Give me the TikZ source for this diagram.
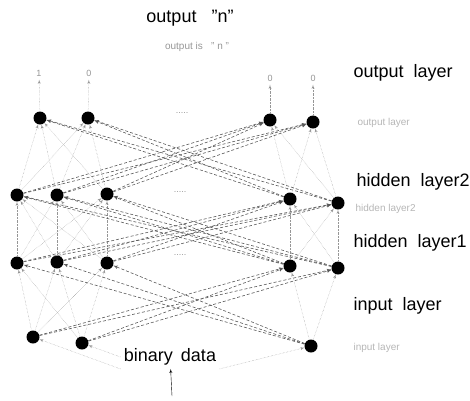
\documentclass[tikz,border=0pt]{standalone}
\usepackage{fontspec}
\setmainfont{Liberation Sans}
\usepackage{xcolor}
\usepackage{tikz}
\usetikzlibrary{shapes,arrows,positioning}
\definecolor{faint}{RGB}{150, 150, 150}
\tikzstyle{neuron} = [circle, fill=black, minimum size=13pt, inner sep=0pt]
\tikzstyle{layername} = [font=\fontsize{18}{20}\selectfont, anchor=west]
\tikzstyle{tiny} = [font=\fontsize{10}{12}\selectfont, text=faint!70, anchor=west]
\tikzstyle{value} = [font=\fontsize{9}{10}\selectfont, text=faint]
\tikzstyle{link} = [draw, faint, densely dotted, -latex']
\tikzstyle{cross} = [draw, black!65, densely dashed, semithick, -latex']
\tikzstyle{outline} = [draw, faint, densely dotted, -latex']

\begin{document}
\begin{tikzpicture}[x=1pt, y=-1pt]
    \useasboundingbox (0,0) rectangle (470,400);
    % title
    \node [font=\fontsize{18}{20}\selectfont] (title) at (190,18) {output \ \ ''n''};
    \node [font=\fontsize{10}{12}\selectfont, text=faint] (result) at (197,47) {output is \ \ '' n ''};

    % output layer
    \node [neuron] (o1) at (40,118) {};
    \node [neuron] (o2) at (88,118) {};
    \node [neuron] (o3) at (270,120) {};
    \node [neuron] (o4) at (313,122) {};
    \node [value] (v1) at (39,73) {1};
    \node [value] (v2) at (89,73) {0};
    \node [value] (v3) at (270,78) {0};
    \node [value] (v4) at (313,78) {0};

    % hidden layer2
    \node [neuron] (h21) at (17,195) {};
    \node [neuron] (h22) at (57,195) {};
    \node [neuron] (h23) at (107,194) {};
    \node [neuron] (h24) at (290,199) {};
    \node [neuron] (h25) at (338,203) {};

    % hidden layer1
    \node [neuron] (h11) at (17,263) {};
    \node [neuron] (h12) at (57,262) {};
    \node [neuron] (h13) at (107,263) {};
    \node [neuron] (h14) at (290,266) {};
    \node [neuron] (h15) at (338,268) {};

    % input layer
    \node [neuron] (i1) at (33,337) {};
    \node [neuron] (i2) at (82,343) {};
    \node [neuron] (i3) at (311,346) {};
    \node [font=\fontsize{18}{20}\selectfont] (data) at (170,357) {binary \,data};
    \coordinate (feed) at (172,396);

    % dots
    \node [value] (d3) at (182,113) {.....};
    \node [value] (d2) at (180,192) {.....};
    \node [value] (d1) at (180,255) {.....};

    % layer names
    \node [layername] (lo) at (350,73) {output \ layer};
    \node [tiny] (so) at (354,123) {output layer};
    \node [layername] (lh2) at (353,182) {hidden \ layer2};
    \node [tiny] (sh2) at (352,209) {hidden layer2};
    \node [layername] (lh1) at (350,243) {hidden \ layer1};
    \node [layername] (li) at (350,306) {input \ layer};
    \node [tiny] (si) at (350,348) {input layer};

    % outputs
    \path [outline] (o1) -- (v1);
    \path [outline] (o2) -- (v2);
    \path [outline] (o3) -- (v3);
    \path [outline] (o4) -- (v4);

    % hidden layer2 -> output layer
    \foreach \a in {h21,h22,h23} \foreach \b in {o1,o2} \path [link] (\a) -- (\b);
    \foreach \a in {h24,h25} \foreach \b in {o3,o4} \path [link] (\a) -- (\b);
    \foreach \a in {h21,h22,h23} \foreach \b in {o3,o4} \path [cross] (\a) -- (\b);
    \foreach \a in {h24,h25} \foreach \b in {o1,o2} \path [cross] (\a) -- (\b);

    % hidden layer1 -> hidden layer2
    \foreach \a in {h11,h12,h13} \foreach \b in {h21,h22,h23} \path [link] (\a) -- (\b);
    \foreach \a in {h14,h15} \foreach \b in {h24,h25} \path [link] (\a) -- (\b);
    \foreach \a in {h11,h12,h13} \foreach \b in {h24,h25} \path [cross] (\a) -- (\b);
    \foreach \a in {h14,h15} \foreach \b in {h21,h22,h23} \path [cross] (\a) -- (\b);

    % input layer -> hidden layer1
    \foreach \a in {i1,i2} \foreach \b in {h11,h12,h13} \path [link] (\a) -- (\b);
    \foreach \b in {h14,h15} \path [link] (i3) -- (\b);
    \foreach \a in {i1,i2} \foreach \b in {h14,h15} \path [cross] (\a) -- (\b);
    \foreach \b in {h11,h12,h13} \path [cross] (i3) -- (\b);

    % binary data -> input layer
    \path [link] (data.west) -- (i2);
    \path [link] (data.south west) -- (i1);
    \path [link] (data.south east) -- (i3);
    \path [draw, -latex'] (feed) -- (data);
\end{tikzpicture}
\end{document}
